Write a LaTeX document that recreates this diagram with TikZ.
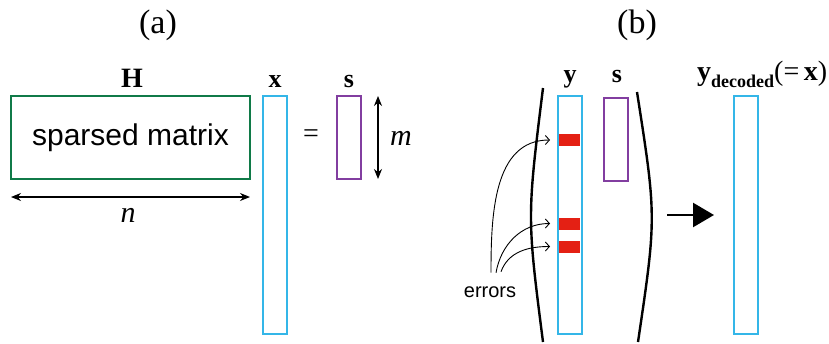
\documentclass[tikz,border=0pt]{standalone}
\usepackage{fontspec}
\setmainfont{Liberation Serif}
\setsansfont{Liberation Sans}
\usetikzlibrary{arrows.meta}
\definecolor{hgreen}{RGB}{16,122,72}
\definecolor{vblue}{RGB}{52,182,232}
\definecolor{spurple}{RGB}{130,62,160}
\definecolor{ered}{RGB}{228,32,20}
\newcommand{\fsz}[1]{\fontsize{#1}{#1}\selectfont}
\begin{document}
\begin{tikzpicture}[x=1pt,y=-1pt,
  box/.style={draw,line width=2pt,inner sep=0pt,outer sep=0pt},
  vec/.style={box,draw=vblue,minimum width=24pt,minimum height=238pt},
  syn/.style={box,draw=spurple,minimum width=24pt,minimum height=83pt},
  errbar/.style={fill=ered,inner sep=0pt,outer sep=0pt,minimum width=21pt,minimum height=12pt},
  title/.style={anchor=base,font=\fsz{34}},
  lbl/.style={anchor=base,font=\fsz{26}\bfseries},
  dim/.style={line width=1.2pt,{Stealth[length=10pt,width=8pt]}-{Stealth[length=10pt,width=8pt]}},
  errarrow/.style={line width=0.9pt,-{Straight Barb[length=4pt,width=9pt]}},
  bracket/.style={line width=2.4pt},
  bigarrow/.style={line width=2.5pt,-{Triangle[length=21pt,width=24pt]}}
]
\useasboundingbox (0,0) rectangle (829,343);

% (a)
\node[title] (ta) at (158,33) {(a)};
\node[box,draw=hgreen,minimum width=239pt,minimum height=83pt,font=\sffamily\fsz{30}] (H) at (130.5,137.5) {sparsed matrix};
\node[lbl,font=\fsz{28}\bfseries] (Hl) at (132,87) {H};
\node[vec] (x) at (275,215) {};
\node[lbl] (xl) at (275,87) {x};
\node[anchor=center,font=\fsz{28}] (eq) at (311,136) {=};
\node[syn] (s) at (349,137.5) {};
\node[lbl] (sl) at (349,87) {s};
\draw[dim] ([yshift=-18pt]H.south west) -- ([yshift=-18pt]H.south east);
\node[anchor=base,font=\fsz{30}\itshape] (n) at (128,222) {n};
\draw[dim] ([xshift=17pt]s.north east) -- ([xshift=17pt]s.south east);
\node[anchor=base,font=\fsz{30}\itshape] (m) at (401,145) {m};

% (b)
\node[title] (tb) at (637,33) {(b)};
\node[vec] (y) at (570,215) {};
\node[lbl] (yl) at (570,82) {y};
\node[syn] (s2) at (616,139) {};
\node[lbl] (s2l) at (617,82) {s};
\node[errbar] (r1) at (569.5,140) {};
\node[errbar] (r2) at (569.5,223.5) {};
\node[errbar] (r3) at (569.5,246.5) {};
\coordinate (lbt) at (543,88);
\coordinate (lbb) at (543,342);
\coordinate (rbt) at (637,92);
\coordinate (rbb) at (638,342);
\draw[bracket] (lbt) .. controls (527,217) .. (lbb);
\draw[bracket] (rbt) .. controls (656.5,217) .. (rbb);
\node[anchor=base,font=\sffamily\fsz{20}] (err) at (490,297) {errors};
\draw[errarrow] ([xshift=1pt,yshift=10pt]err.north) to[out=90,in=180] ([xshift=-9pt]r1.west);
\draw[errarrow] ([xshift=6pt,yshift=10pt]err.north) to[out=80,in=180] ([xshift=-9pt]r2.west);
\draw[errarrow] ([xshift=11pt,yshift=11pt]err.north) to[out=70,in=180] ([xshift=-9pt]r3.west);
\node[vec] (yd) at (746,215) {};
\coordinate (arrstart) at (667,215);
\draw[bigarrow] (arrstart) -- ([xshift=-20pt]yd.west);
\node[anchor=base west,inner sep=0pt] (ydl) at (697,80) {\fsz{28}\textbf{y}\raisebox{-7pt}{\fsz{18}\textbf{decoded}}(=\,\textbf{x})};
\end{tikzpicture}
\end{document}
